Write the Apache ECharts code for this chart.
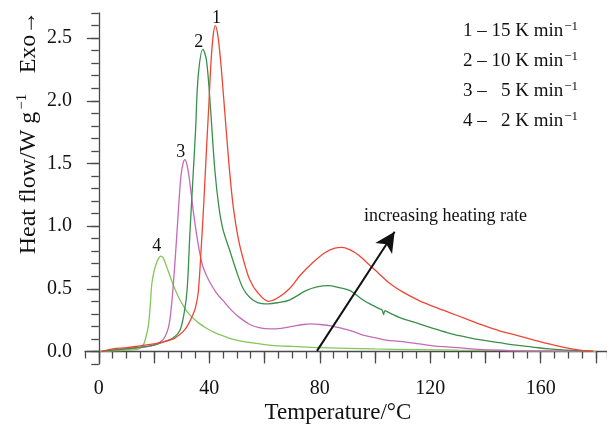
<!DOCTYPE html>
<html lang="en">

<head>
    <meta charset="UTF-8">
    <title>DSC curves</title>
    <script src="https://cdn.jsdelivr.net/npm/echarts@6/dist/echarts.min.js"></script>
    <style>
        html, body { margin: 0; padding: 0; background: #fff; }
        #main { width: 607px; height: 427px; }
    </style>
</head>

<body>
    <div id="main"></div>
    <script type="text/javascript">
        // curve 1 - 15 K/min
        var t1 = [1, 5, 10, 15, 20, 24, 27, 29, 31, 32.5, 34, 35, 36, 37, 38, 39, 39.8, 40.6, 41.4, 42.2, 43.1, 44.1, 45, 46, 47.3, 48.7, 50.5, 52.5, 54.7, 57.5, 61.5, 65, 69, 73, 77.5, 82, 85.5, 88, 91, 94, 97, 101, 105.5, 110, 116, 121, 127, 133, 139, 145, 151, 157, 163, 168, 173, 179];
        var v1 = [0, 0.02, 0.03, 0.045, 0.06, 0.08, 0.1, 0.13, 0.17, 0.22, 0.29, 0.35, 0.47, 0.8, 1.18, 1.62, 1.95, 2.3, 2.52, 2.6, 2.52, 2.32, 2.08, 1.8, 1.45, 1.15, 0.9, 0.72, 0.57, 0.47, 0.40, 0.43, 0.5, 0.61, 0.71, 0.79, 0.825, 0.83, 0.81, 0.77, 0.71, 0.63, 0.54, 0.475, 0.405, 0.36, 0.31, 0.26, 0.21, 0.165, 0.13, 0.095, 0.06, 0.035, 0.015, 0];
        // curve 2 - 10 K/min
        var t2 = [1, 5, 10, 15, 20, 24, 27, 29.4, 31, 32, 33, 34, 35, 36, 37.7, 39, 40.5, 42, 43.5, 45, 47.5, 50, 52.3, 54.7, 57.5, 61.3, 65, 69, 75, 79, 83, 87, 91, 95.7, 99, 101.7, 102.6, 103.1, 103.6, 104.2, 106, 109, 116, 121, 127, 133, 139, 145, 151, 157, 163, 170, 179];
        var v2 = [0, 0.01, 0.02, 0.035, 0.05, 0.08, 0.11, 0.17, 0.32, 0.5, 0.95, 1.35, 1.75, 2.2, 2.41, 2.32, 1.92, 1.45, 1.15, 0.97, 0.8, 0.63, 0.5, 0.43, 0.39, 0.38, 0.39, 0.41, 0.485, 0.515, 0.525, 0.51, 0.485, 0.41, 0.37, 0.34, 0.33, 0.295, 0.325, 0.32, 0.3, 0.27, 0.22, 0.185, 0.145, 0.115, 0.09, 0.07, 0.05, 0.035, 0.02, 0.01, 0];
        // curve 3 - 5 K/min
        var t3 = [1, 5, 10, 15, 19, 21, 22.8, 24, 25.2, 26, 27, 28, 28.8, 29.7, 30.5, 31.2, 32, 32.7, 33.5, 34.2, 35.5, 36.5, 37.8, 40, 42.5, 45, 48, 51, 54.7, 58, 62, 66, 70, 74, 77, 80, 84, 88, 92, 95.7, 100, 104, 109, 116, 121, 127, 133, 139, 145, 152, 160, 170, 179];
        var v3 = [0, 0.01, 0.02, 0.03, 0.045, 0.06, 0.085, 0.12, 0.19, 0.3, 0.54, 0.85, 1.12, 1.39, 1.5, 1.53, 1.48, 1.39, 1.25, 1.12, 0.92, 0.79, 0.67, 0.56, 0.47, 0.405, 0.33, 0.27, 0.215, 0.19, 0.18, 0.185, 0.2, 0.215, 0.22, 0.215, 0.205, 0.185, 0.16, 0.13, 0.11, 0.09, 0.08, 0.06, 0.045, 0.035, 0.025, 0.015, 0.01, 0.005, 0.003, 0.001, 0];
        // curve 4 - 2 K/min
        var t4 = [0.5, 5, 10, 13.7, 15, 16.1, 17, 17.9, 18.6, 19.2, 20, 20.8, 21.6, 22.4, 23.2, 24, 25, 25.8, 27.5, 29.4, 31, 33, 36, 39, 42, 45, 48, 51, 55, 60, 65, 70, 80, 90, 100, 115, 130, 145, 160, 170, 180];
        var v4 = [0, 0.005, 0.01, 0.015, 0.025, 0.05, 0.11, 0.2, 0.36, 0.54, 0.64, 0.7, 0.74, 0.76, 0.75, 0.71, 0.65, 0.6, 0.5, 0.41, 0.35, 0.29, 0.23, 0.185, 0.15, 0.125, 0.1, 0.085, 0.07, 0.055, 0.045, 0.04, 0.03, 0.025, 0.02, 0.015, 0.01, 0.008, 0.005, 0.003, 0];

        var curveNames = ['1', '2', '3', '4'];
        var curveColors = ['#ee4634', '#3a8f4c', '#c46ab8', '#86c55c'];
        var rates = ['1 – 15', '2 – 10', '3 –   5', '4 –   2'];

        // text positions in data space
        var labelPos = [[42.6, 2.66], [36.2, 2.47], [29.7, 1.59], [21.0, 0.84]];
        var arrowFrom = [79.0, 0.005];
        var arrowTo = [107.1, 0.955];
        var arrowText = 'increasing heating rate';
        var arrowTextPos = [125.5, 1.076];

        var xMajor = [0, 20, 40, 60, 80, 100, 120, 140, 160, 180];
        var xLabels = [0, 40, 80, 120, 160];
        var yLabels = [0, 0.5, 1, 1.5, 2, 2.5];

        var FONT = 'Liberation Serif';
        var AXIS = '#4a4a4a';
        var INK = '#111';

        function pairs(t, v) {
            return t.map(function (x, i) { return [x, v[i]]; });
        }

        var myChart = echarts.init(document.getElementById('main'));

        var series = [[t1, v1], [t2, v2], [t3, v3], [t4, v4]].map(function (c, i) {
            return {
                name: curveNames[i],
                type: 'line',
                data: pairs(c[0], c[1]),
                smooth: 0.35,
                showSymbol: false,
                lineStyle: { color: curveColors[i], width: 1.3 },
                z: 4 - i
            };
        });

        var labelData = labelPos.map(function (p, i) {
            return { name: curveNames[i], value: p };
        });
        labelData.push({ name: arrowText, value: arrowTextPos });

        series.push({
            type: 'scatter',
            data: labelData,
            symbolSize: 0,
            silent: true,
            z: 10,
            label: {
                show: true,
                position: 'inside',
                formatter: '{b}',
                color: INK,
                opacity: 1,
                textBorderWidth: 0,
                fontFamily: FONT,
                fontSize: 18
            },
            markLine: {
                silent: true,
                symbol: ['none', 'arrow'],
                symbolSize: [15, 20],
                lineStyle: { color: '#111', width: 2, type: 'solid' },
                label: { show: false },
                data: [[{ coord: arrowFrom }, { coord: arrowTo }]]
            }
        });

        var legendTexts = rates.map(function (r, i) {
            return {
                type: 'text',
                left: 463,
                top: 20 + i * 30,
                style: {
                    text: '{a|' + r + ' K min}{s|−1}',
                    rich: {
                        a: { fontFamily: FONT, fontSize: 19, fill: INK, lineHeight: 22 },
                        s: { fontFamily: FONT, fontSize: 13, fill: INK, verticalAlign: 'top', lineHeight: 22, padding: [0, 0, 8, 1] }
                    }
                }
            };
        });

        var option = {
            animation: false,
            grid: { left: 85, right: 0, top: 13, bottom: 63 },
            xAxis: [{
                type: 'value', min: -5, max: 184, interval: 5,
                axisLine: { lineStyle: { color: AXIS, width: 1.3 } },
                axisTick: { length: 7, lineStyle: { color: AXIS, width: 1.3 } },
                axisLabel: { show: false },
                splitLine: { show: false }
            }, {
                type: 'value', min: -5, max: 184, position: 'bottom',
                axisLine: { show: false },
                axisTick: { show: true, length: 12, customValues: xMajor, lineStyle: { color: AXIS, width: 1.3 } },
                axisLabel: {
                    customValues: xLabels, margin: 15,
                    color: INK, fontFamily: FONT, fontSize: 20
                },
                splitLine: { show: false }
            }],
            yAxis: [{
                type: 'value', min: -0.1, max: 2.7, interval: 0.1,
                axisLine: { show: true, lineStyle: { color: AXIS, width: 1.3 } },
                axisTick: { show: true, length: 7.5, lineStyle: { color: AXIS, width: 1.3 } },
                axisLabel: { show: false },
                splitLine: { show: false }
            }, {
                type: 'value', min: -0.1, max: 2.7, position: 'left',
                axisLine: { show: false },
                axisTick: { show: true, length: 12, customValues: yLabels, lineStyle: { color: AXIS, width: 1.3 } },
                axisLabel: {
                    customValues: yLabels, margin: 13,
                    color: INK, fontFamily: FONT, fontSize: 20,
                    formatter: function (v) { return v.toFixed(1); }
                },
                splitLine: { show: false }
            }],
            graphic: [{
                type: 'text',
                x: 338, y: 413,
                style: {
                    text: 'Temperature/°C', fontFamily: FONT, fontSize: 23,
                    fill: INK, align: 'center', verticalAlign: 'middle'
                }
            }, {
                type: 'text',
                x: 29, y: 174, rotation: Math.PI / 2,
                style: {
                    text: '{a|Heat flow/W g}{s|−1}',
                    align: 'center', verticalAlign: 'middle',
                    rich: {
                        a: { fontFamily: FONT, fontSize: 24, fill: INK, lineHeight: 28 },
                        s: { fontFamily: FONT, fontSize: 15, fill: INK, verticalAlign: 'top', lineHeight: 28, padding: [0, 0, 10, 2] }
                    }
                }
            }, {
                type: 'text',
                x: 29, y: 42, rotation: Math.PI / 2,
                style: {
                    text: 'Exo→', fontFamily: FONT, fontSize: 24,
                    fill: INK, align: 'center', verticalAlign: 'middle'
                }
            }].concat(legendTexts),
            series: series
        };

        myChart.setOption(option);
    </script>
</body>

</html>
